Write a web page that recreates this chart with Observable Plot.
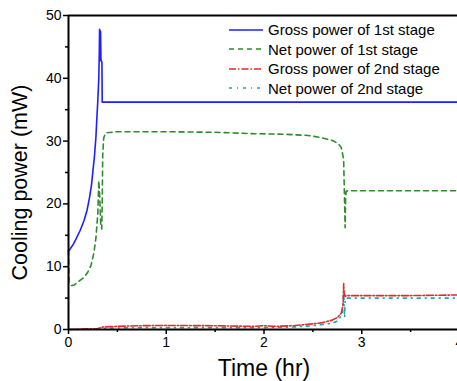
<!DOCTYPE html>
<html><head><meta charset="utf-8">
<script src="https://cdn.jsdelivr.net/npm/d3@7"></script>
<script src="https://cdn.jsdelivr.net/npm/@observablehq/plot@0.6"></script>
<style>
html,body{margin:0;padding:0;background:#fff;}
#wrap{position:relative;width:457px;height:381px;overflow:hidden;font-family:"Liberation Sans",Arial,sans-serif;}
#legend{position:absolute;left:228px;top:20px;font-size:15px;color:#000;line-height:19.5px;}
#legend div{display:flex;align-items:center;white-space:nowrap;}
#legend svg{margin-right:4px;}
</style>
</head><body><div id="wrap"><div id="legend"></div></div>
<script>
const seriesNames = ["Gross power of 1st stage","Net power of 1st stage","Gross power of 2nd stage","Net power of 2nd stage"];
const seriesColors = ["#1f1fff","#2e8b2e","#e8282c","#1fa5a5"];
const seriesDash = [null,"5,4","7,2,1.5,2","3,5,1,5"];

const tGross1 = [0,0.02,0.05,0.08,0.12,0.16,0.19,0.215,0.235,0.25,0.265,0.27,0.28,0.29,0.30,0.31,0.315,0.318,0.322,0.328,0.332,0.342,0.345,0.36,1,2,3,4];
const vGross1 = [12.5,12.9,13.6,14.5,15.8,17.4,19.0,21.0,23.0,25.3,27.5,28.5,30.5,33.6,36.5,40,44,47.8,42.8,47.5,43,42.5,36.2,36.2,36.2,36.2,36.2,36.2];

const tNet1 = [0,0.005,0.03,0.06,0.1,0.16,0.2,0.23,0.26,0.28,0.3,0.31,0.32,0.33,0.34,0.345,0.35,0.36,0.38,0.5,1.0,1.5,1.85,2.2,2.45,2.57,2.7,2.76,2.79,2.81,2.815,2.83,2.835,2.84,2.86,2.9,3.5,4];
const vNet1 = [12.6,7.5,7.0,7.1,7.6,8.3,9.2,10.2,12.2,14.5,18.5,23.7,21,16.5,16,20.5,27.7,30.5,31.3,31.5,31.5,31.4,31.2,31.1,30.9,30.6,30.1,29.6,29.0,27.5,26.9,16.2,20.9,22.0,22.1,22.1,22.1,22.1];

const tGross2 = [0,0.1,0.2,0.3,0.35,0.5,0.7,1.0,1.5,1.9,2.0,2.1,2.3,2.5,2.6,2.7,2.75,2.79,2.81,2.815,2.82,2.83,2.85,3.0,3.5,4];
const vGross2 = [0,0.05,0.1,0.15,0.4,0.5,0.6,0.65,0.6,0.5,0.6,0.5,0.6,0.9,1.1,1.5,1.9,2.6,4.0,7.3,5.8,5.3,5.4,5.4,5.4,5.5];

const tNet2 = [0,0.3,0.35,0.7,1.0,1.5,2.0,2.3,2.5,2.6,2.7,2.76,2.8,2.815,2.82,2.825,2.83,2.835,2.85,3.0,3.5,4];
const vNet2 = [0,0.05,0.2,0.3,0.3,0.3,0.3,0.4,0.6,0.8,1.0,1.4,2.5,6.2,3.5,1.9,4.5,5.0,5.0,5.0,5.0,5.0];

const xMajor = [0,1,2,3,4];
const xMinor = [0.5,1.5,2.5,3.5];
const yMajor = [0,10,20,30,40,50];
const yMinor = [5,15,25,35,45];

const T = [tGross1,tNet1,tGross2,tNet2];
const V = [vGross1,vNet1,vGross2,vNet2];
const data = [];
T.forEach((ts,i)=>ts.forEach((t,j)=>data.push({t, v:V[i][j], s:seriesNames[i]})));

const lineMarks = seriesNames.map((name,i)=>Plot.line(data.filter(d=>d.s===name),{
  x:"t", y:"v", stroke:seriesColors[i], strokeWidth:1.6, strokeDasharray:seriesDash[i], curve:"linear"
}));

const chart = Plot.plot({
  width:457, height:381,
  marginLeft:68, marginTop:15, marginBottom:52, marginRight:-2,
  style:{fontFamily:"'Liberation Sans', Arial, sans-serif", fontSize:"14px", color:"#000", background:"#fff"},
  x:{domain:[0,4]},
  y:{domain:[0,50]},
  marks:[
    ...lineMarks.reverse(),
    Plot.ruleY([0],{stroke:"#000",strokeWidth:2}),
    Plot.ruleY([50],{stroke:"#000",strokeWidth:2}),
    Plot.ruleX([0],{stroke:"#000",strokeWidth:2}),
    Plot.axisX(xMajor,{tickSize:5,tickPadding:3,strokeWidth:1.5,fontSize:14,label:null}),
    Plot.axisX(xMinor,{tickSize:3,text:null,strokeWidth:1.5,label:null}),
    Plot.axisY(yMajor,{tickSize:5,tickPadding:2,strokeWidth:1.5,fontSize:14,label:null}),
    Plot.axisY(yMinor,{tickSize:3,text:null,strokeWidth:1.5,label:null}),
    Plot.text(["Time (hr)"],{frameAnchor:"bottom",textAnchor:"middle",lineAnchor:"middle",dy:39,fontSize:23,fill:"#000"}),
    Plot.text(["Cooling power (mW)"],{frameAnchor:"left",textAnchor:"middle",lineAnchor:"middle",dx:-48,dy:10,rotate:-90,fontSize:21.5,fill:"#000"})
  ]
});
const wrap = document.getElementById("wrap");
wrap.insertBefore(chart, wrap.firstChild);

const legend = document.getElementById("legend");
seriesNames.forEach((name,i)=>{
  const row = document.createElement("div");
  row.innerHTML = `<svg width="36" height="10"><line x1="1" y1="5" x2="35" y2="5" stroke="${seriesColors[i]}" stroke-width="1.6" ${seriesDash[i]?`stroke-dasharray="${seriesDash[i]}"`:""}/></svg><span>${name}</span>`;
  legend.appendChild(row);
});
</script></body></html>
